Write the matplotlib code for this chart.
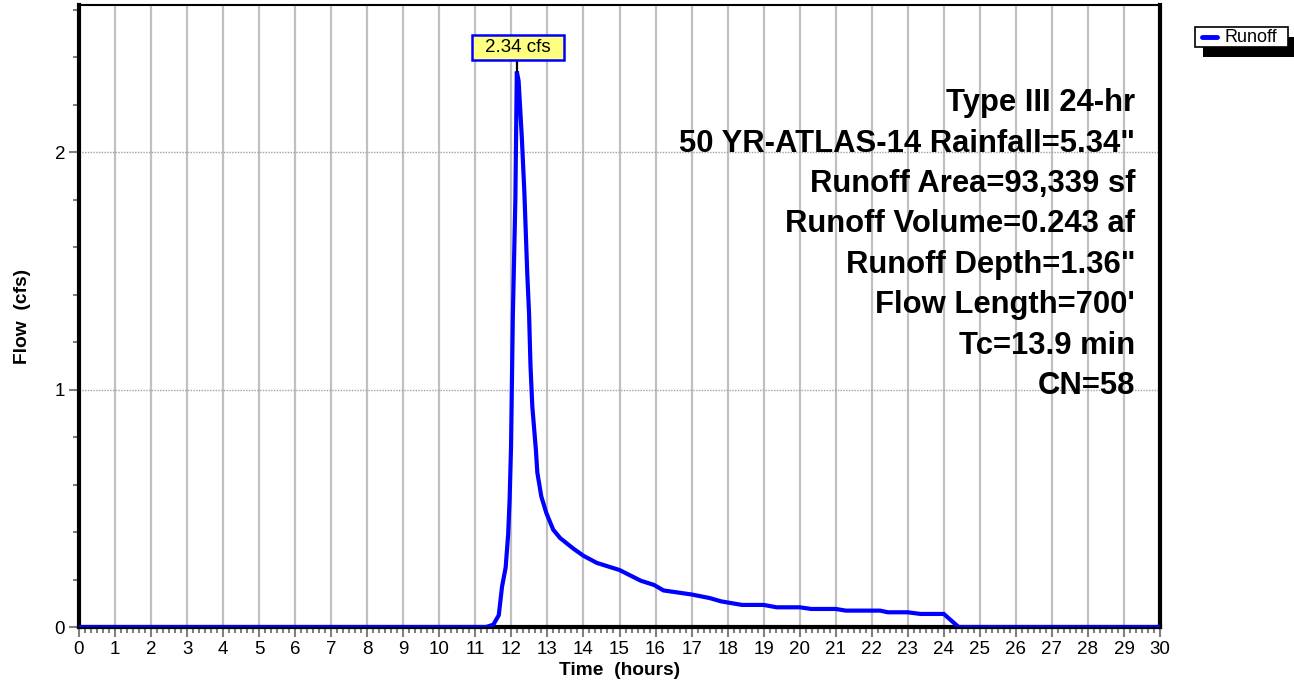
import matplotlib

matplotlib.use("Agg")
import matplotlib.pyplot as plt
from matplotlib.patches import Rectangle
from matplotlib.lines import Line2D
from matplotlib.ticker import MultipleLocator
from matplotlib.transforms import Affine2D, ScaledTranslation

plt.rcParams["font.family"] = ["Liberation Sans", "DejaVu Sans"]

# hydrograph
time_hr = [0, 11.30, 11.50, 11.65, 11.74, 11.84, 11.91, 11.95, 11.99, 12.04,
           12.11, 12.15, 12.20, 12.29, 12.36, 12.44, 12.49, 12.53, 12.58, 12.68,
           12.72, 12.83, 12.97, 13.16, 13.35, 13.72, 14.00, 14.37, 15.00, 15.59,
           15.96, 16.22, 17.00, 17.50, 17.82, 18.40, 19.00, 19.36, 20.00, 20.32,
           21.00, 21.28, 22.23, 22.45, 23.00, 23.35, 24.00, 24.41, 30.0]
flow_cfs = [0, 0, 0.01, 0.05, 0.17, 0.25, 0.39, 0.535, 0.76, 1.31,
            1.80, 2.34, 2.30, 2.06, 1.83, 1.49, 1.32, 1.10, 0.93, 0.745,
            0.65, 0.55, 0.48, 0.41, 0.375, 0.33, 0.30, 0.27, 0.24, 0.195,
            0.177, 0.154, 0.137, 0.122, 0.108, 0.093, 0.093, 0.083, 0.083, 0.076,
            0.076, 0.069, 0.069, 0.062, 0.062, 0.055, 0.055, 0.0, 0.0]

peak_time = 12.15
peak_flow = 2.34
peak_label = "2.34 cfs"

info_lines = [
    "Type III 24-hr",
    '50 YR-ATLAS-14 Rainfall=5.34"',
    "Runoff Area=93,339 sf",
    "Runoff Volume=0.243 af",
    'Runoff Depth=1.36"',
    "Flow Length=700'",
    "Tc=13.9 min",
    "CN=58",
]

x_ticks = list(range(0, 31))
y_ticks = [0, 1, 2]

W, H = 1294, 684
fig = plt.figure(figsize=(W / 100, H / 100), dpi=100)
ax = fig.add_axes([79 / W, 1 - 627 / H, (1160 - 79) / W, (627 - 5) / H])

ax.set_xlim(0, 30)
ax.set_ylim(0, 2.62)

# grid
for t in x_ticks[1:-1]:
    ax.axvline(t, color="#c0c0c0", lw=1.6, zorder=0)
for v in y_ticks[1:]:
    ax.axhline(v, color="#a0a0a0", lw=1.0, ls=(0, (1, 1)), zorder=0)

ax.plot(time_hr, flow_cfs, color="#0000ff", lw=3.0, solid_joinstyle="miter", zorder=3)

ax.set_xticks(x_ticks)
ax.set_yticks(y_ticks)
ax.xaxis.set_minor_locator(MultipleLocator(1 / 6))
ax.yaxis.set_minor_locator(MultipleLocator(0.2))
ax.tick_params(axis="both", which="major", length=7, width=1.5, color="#808080",
               labelsize=13.5, pad=3)
ax.tick_params(axis="both", which="minor", length=4, width=1.5, color="#808080")

for side in ["left", "right", "bottom"]:
    ax.spines[side].set_linewidth(3)
ax.spines["top"].set_linewidth(1.5)

ax.set_xlabel("Time  (hours)", fontsize=13.8, fontweight="bold", labelpad=3)
ax.set_ylabel("Flow  (cfs)", fontsize=13.8, fontweight="bold", labelpad=17)

# peak label: box in pixels, anchored at the peak point
anchor = ScaledTranslation(peak_time, peak_flow, ax.transData)
box_tr = Affine2D() + anchor
ax.add_patch(Rectangle((-45, 11), 92, 25, transform=box_tr, fc="#ffff80", ec="#0000ff",
                       lw=1.8, zorder=6, clip_on=False))
ax.add_line(Line2D([0, 0], [0, 11], transform=box_tr, color="black", lw=1.6, zorder=5,
                   clip_on=False))
ax.text(1, 23.5, peak_label, transform=box_tr, ha="center", va="center", fontsize=13.5,
        zorder=7)

# info block
for i, line in enumerate(info_lines):
    fig.text(1135 / W, 1 - (111 + 40.5 * i) / H, line, ha="right", va="baseline",
             fontsize=22.3, fontweight="bold")

# legend with hard shadow
lx, ly, lw_, lh = 1195, 27, 93, 20
fig.patches.append(Rectangle(((lx + 8) / W, 1 - (ly + lh + 10) / H), lw_ / W, lh / H,
                             transform=fig.transFigure, fc="black", ec="none"))
fig.patches.append(Rectangle((lx / W, 1 - (ly + lh) / H), lw_ / W, lh / H,
                             transform=fig.transFigure, fc="white", ec="black", lw=1.2))
fig.lines.append(Line2D([(lx + 7) / W, (lx + 22) / W], [1 - (ly + 10) / H] * 2,
                        transform=fig.transFigure, color="#0000ff", lw=3.5,
                        solid_capstyle="round"))
fig.text((lx + 29) / W, 1 - (ly + 10) / H, "Runoff", ha="left", va="center", fontsize=13)

fig.savefig("out.png", dpi=100)
